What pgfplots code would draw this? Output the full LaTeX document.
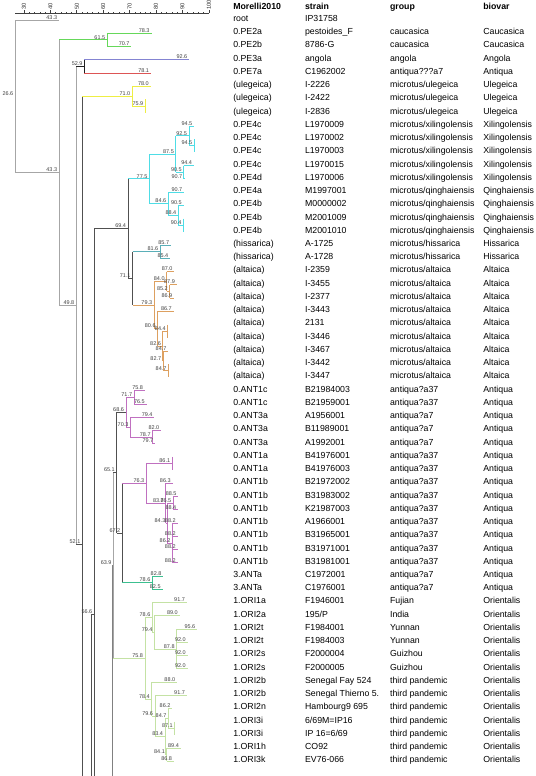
\documentclass[border=0pt]{standalone}
\usepackage{pgfplots}
\pgfplotsset{compat=1.18}
\usepackage{fontspec}
\setmainfont{Liberation Sans}
\definecolor{cgray}{HTML}{A6A6A6}
\definecolor{cmid}{HTML}{808080}
\definecolor{cdark}{HTML}{505050}
\definecolor{cblack}{HTML}{202020}
\definecolor{cgreen}{HTML}{66D85A}
\definecolor{cblue}{HTML}{8484D2}
\definecolor{cred}{HTML}{DD5555}
\definecolor{cyell}{HTML}{EEEE44}
\definecolor{ccyan}{HTML}{4EDDE6}
\definecolor{cteal}{HTML}{5AAFB8}
\definecolor{corange}{HTML}{DDA060}
\definecolor{cpurple}{HTML}{C070C0}
\definecolor{ctgreen}{HTML}{3CC090}
\definecolor{clgreen}{HTML}{C4E2A4}
\tikzset{
  lbl/.style={anchor=south east, inner sep=0.4pt, xshift=-1.2bp, font=\fontsize{5.5}{6}\selectfont, text=black!75},
  txt/.style={anchor=base west, inner sep=0pt, yshift=-1.4bp, font=\fontsize{8.8}{10}\selectfont},
  hdr/.style={anchor=base west, inner sep=0pt, font=\fontsize{8.8}{10}\selectfont\bfseries},
}
\newcommand{\vs}[4]{\addplot[#1] coordinates {(#2,#3) (#2,#4)};}
\newcommand{\hs}[4]{\addplot[#1] coordinates {(#2,#4) (#3,#4)} node[pos=1,lbl]{#3};}
\newcommand{\rw}[5]{%
  \node[txt] at (axis cs:109.2,#1) {#2};
  \node[txt] at (axis cs:136.4,#1) {#3};
  \node[txt] at (axis cs:168.6,#1) {#4};
  \node[txt] at (axis cs:203.9,#1) {#5};}
\begin{document}
\begin{tikzpicture}
\useasboundingbox (0,0) rectangle (536bp,-776bp);
\begin{axis}[
  at={(15.02bp,-13.3bp)}, anchor=north west,
  scale only axis, width=193.78bp, height=762.7bp,
  xmin=26.6, xmax=100, ymin=0.494, ymax=58.1, y dir=reverse,
  axis x line=top, axis y line=none, clip=false,
  x axis line style={-, black!75, line width=0.6bp},
  xtick={30,40,...,100}, minor x tick num=4,
  tick align=outside, major tick length=3bp, minor tick length=1.2bp,
  every tick/.style={black!75, line width=0.6bp},
  xticklabel style={rotate=90, anchor=west, font=\fontsize{5.8}{6}\selectfont, inner sep=0.6pt, text=black!80},
  /pgf/number format/assume math mode=true,
  every axis plot/.append style={no markers, line width=0.8bp},
]
% ---- root ----
\vs{cgray}{26.6}{1}{12.53}
\node[lbl] at (axis cs:26.6,6.77) {26.6};
\hs{cgray}{26.6}{43.3}{1}
\hs{cgray}{26.6}{43.3}{12.53}
\vs{cgray}{43.3}{2.5}{22.56}
\hs{cgreen}{43.3}{61.5}{2.5}
\hs{cgray}{43.3}{49.8}{22.56}
\vs{cgreen}{61.5}{2}{3}
\hs{cgreen}{61.5}{78.3}{2}
\hs{cgreen}{61.5}{70.7}{3}
\vs{cgray}{49.8}{4.5}{40.62}
\hs{cblack}{49.8}{52.9}{4.5}
\hs{cdark}{49.8}{52.1}{40.62}
\vs{cblack}{52.9}{4}{5}
\hs{cblue}{52.9}{92.6}{4}
\hs{cred}{52.9}{78.1}{5}
\vs{cdark}{52.1}{6.75}{58.1}
\hs{cyell}{52.1}{71.0}{6.75}
\vs{cyell}{71.0}{6}{7.5}
\hs{cyell}{71.0}{78.0}{6}
\hs{cyell}{71.0}{75.9}{7.5}
\vs{cyell}{75.9}{7}{8}
% ---- lower backbone ----
\vs{cdark}{55.6}{45.9}{58.1}
\hs{cdark}{55.6}{56.6}{45.9}
\vs{cdark}{56.6}{16.758}{58.1}
\hs{cdark}{56.6}{69.4}{16.758}
\vs{cdark}{69.4}{13}{20.516}
% xilingolensis / qinghaiensis
\hs{ccyan}{69.4}{77.5}{13}
\vs{ccyan}{77.5}{11.125}{14.875}
\hs{ccyan}{77.5}{87.5}{11.125}
\hs{ccyan}{77.5}{84.6}{14.875}
\vs{ccyan}{87.5}{9.75}{12.5}
\hs{ccyan}{87.5}{92.5}{9.75}
\hs{ccyan}{87.5}{90.5}{12.5}
\vs{ccyan}{92.5}{9}{10.5}
\hs{ccyan}{92.5}{94.5}{9}
\hs{ccyan}{92.5}{94.5}{10.5}
\vs{ccyan}{94.5}{10}{11}
\vs{ccyan}{90.5}{12}{13}
\hs{ccyan}{90.5}{94.4}{12}
\hs{ccyan}{90.5}{90.7}{13}
\vs{ccyan}{84.6}{14}{15.75}
\hs{ccyan}{84.6}{90.7}{14}
\hs{ccyan}{84.6}{88.4}{15.75}
\vs{ccyan}{88.4}{15}{16.5}
\hs{ccyan}{88.4}{90.5}{15}
\hs{ccyan}{88.4}{90.4}{16.5}
\vs{ccyan}{90.4}{16}{17}
% hissarica / altaica
\hs{cdark}{69.4}{71.1}{20.516}
\vs{cdark}{71.1}{18.5}{22.531}
\hs{cteal}{71.1}{81.6}{18.5}
\vs{cteal}{81.6}{18}{19}
\hs{cteal}{81.6}{85.7}{18}
\hs{cteal}{81.6}{85.4}{19}
\hs{corange}{71.1}{79.3}{22.531}
\vs{corange}{79.3}{20.75}{24.3125}
\hs{corange}{79.3}{84.0}{20.75}
\hs{corange}{79.3}{80.6}{24.3125}
\vs{corange}{84.0}{20}{21.5}
\hs{corange}{84.0}{87.0}{20}
\hs{corange}{84.0}{85.2}{21.5}
\vs{corange}{85.2}{21}{22}
\hs{corange}{85.2}{87.9}{21}
\hs{corange}{85.2}{86.9}{22}
\vs{corange}{80.6}{23}{25.625}
\hs{corange}{80.6}{86.7}{23}
\hs{corange}{80.6}{82.6}{25.625}
\vs{corange}{82.6}{24.5}{26.75}
\hs{corange}{82.6}{84.4}{24.5}
\vs{corange}{84.4}{24}{25}
\hs{corange}{82.6}{82.7}{26.75}
\vs{corange}{82.7}{26}{27.5}
\hs{corange}{82.7}{84.7}{26}
\hs{corange}{82.7}{84.7}{27.5}
\vs{corange}{84.7}{27}{28}
% ---- antiqua ----
\vs{cmid}{63.45}{42.19}{58.1}
\hs{cmid}{63.45}{63.9}{42.19}
\vs{cgray}{63.9}{35.19}{49.2}
\hs{cdark}{63.9}{65.1}{35.19}
\vs{cdark}{65.1}{30.625}{39.75}
\hs{cdark}{65.1}{68.6}{30.625}
\vs{cpurple}{68.6}{29.5}{31.75}
\hs{cpurple}{68.6}{71.7}{29.5}
\vs{cpurple}{71.7}{29}{30}
\hs{cpurple}{71.7}{75.8}{29}
\hs{cpurple}{71.7}{76.5}{30}
\hs{cpurple}{68.6}{70.3}{31.75}
\vs{cpurple}{70.3}{31}{32.5}
\hs{cpurple}{70.3}{79.4}{31}
\hs{cpurple}{70.3}{78.7}{32.5}
\vs{cpurple}{78.7}{32}{33}
\hs{cpurple}{78.7}{82.0}{32}
\hs{cpurple}{78.7}{79.7}{33}
\hs{cdark}{65.1}{67.2}{39.75}
\vs{cdark}{67.2}{36}{43.5}
\hs{cpurple}{67.2}{76.3}{36}
\vs{cpurple}{76.3}{34.5}{37.5}
\hs{cpurple}{76.3}{86.1}{34.5}
\vs{cpurple}{86.1}{34}{35}
\hs{cpurple}{76.3}{83.7}{37.5}
\vs{cpurple}{83.7}{36}{39}
\hs{cpurple}{83.7}{86.3}{36}
\hs{cpurple}{83.7}{84.3}{39}
\vs{cpurple}{84.3}{37.5}{40.5}
\hs{cpurple}{84.3}{86.5}{37.5}
\vs{cpurple}{86.5}{37}{38}
\hs{cpurple}{86.5}{88.5}{37}
\hs{cpurple}{86.5}{88.4}{38}
\hs{cpurple}{84.3}{86.2}{40.5}
\vs{cpurple}{86.2}{39}{42}
\hs{cpurple}{86.2}{88.2}{39}
\hs{cpurple}{86.2}{88.2}{40}
\hs{cpurple}{86.2}{88.2}{41}
\hs{cpurple}{86.2}{88.2}{42}
\hs{ctgreen}{67.2}{78.6}{43.5}
\vs{ctgreen}{78.6}{43}{44}
\hs{ctgreen}{78.6}{82.8}{43}
\hs{ctgreen}{78.6}{82.5}{44}
% ---- orientalis ----
\hs{clgreen}{63.9}{75.8}{49.2}
\vs{clgreen}{75.8}{46.125}{52.28}
\hs{clgreen}{75.8}{78.6}{46.125}
\vs{clgreen}{78.6}{45}{47.25}
\hs{clgreen}{78.6}{91.7}{45}
\hs{clgreen}{78.6}{79.4}{47.25}
\vs{clgreen}{79.4}{46}{48.5}
\hs{clgreen}{79.4}{89.0}{46}
\hs{clgreen}{79.4}{87.8}{48.5}
\vs{clgreen}{87.8}{47}{50}
\hs{clgreen}{87.8}{95.6}{47}
\hs{clgreen}{87.8}{92.0}{48}
\hs{clgreen}{87.8}{92.0}{49}
\hs{clgreen}{87.8}{92.0}{50}
\hs{clgreen}{75.8}{78.4}{52.28}
\vs{clgreen}{78.4}{51}{53.5625}
\hs{clgreen}{78.4}{88.0}{51}
\hs{clgreen}{78.4}{79.6}{53.5625}
\vs{clgreen}{79.6}{52}{55.125}
\hs{clgreen}{79.6}{91.7}{52}
\hs{clgreen}{79.6}{83.4}{55.125}
\vs{clgreen}{83.4}{53.75}{56.5}
\hs{clgreen}{83.4}{84.7}{53.75}
\vs{clgreen}{84.7}{53}{54.5}
\hs{clgreen}{84.7}{86.2}{53}
\hs{clgreen}{84.7}{87.1}{54.5}
\vs{clgreen}{87.1}{54}{55}
\hs{clgreen}{83.4}{84.1}{56.5}
\vs{clgreen}{84.1}{56}{57}
\hs{clgreen}{84.1}{89.4}{56}
\hs{clgreen}{84.1}{86.8}{57}
% ---- text columns ----
\node[hdr] at (axis cs:109.2,0.184) {Morelli2010};
\node[hdr] at (axis cs:136.4,0.184) {strain};
\node[hdr] at (axis cs:168.6,0.184) {group};
\node[hdr] at (axis cs:203.9,0.184) {biovar};
\rw{1}{root}{IP31758}{}{}
\rw{2}{0.PE2a}{pestoides\_F}{caucasica}{Caucasica}
\rw{3}{0.PE2b}{8786-G}{caucasica}{Caucasica}
\rw{4}{0.PE3a}{angola}{angola}{Angola}
\rw{5}{0.PE7a}{C1962002}{antiqua???a7}{Antiqua}
\rw{6}{(ulegeica)}{I-2226}{microtus/ulegeica}{Ulegeica}
\rw{7}{(ulegeica)}{I-2422}{microtus/ulegeica}{Ulegeica}
\rw{8}{(ulegeica)}{I-2836}{microtus/ulegeica}{Ulegeica}
\rw{9}{0.PE4c}{L1970009}{microtus/xilingolensis}{Xilingolensis}
\rw{10}{0.PE4c}{L1970002}{microtus/xilingolensis}{Xilingolensis}
\rw{11}{0.PE4c}{L1970003}{microtus/xilingolensis}{Xilingolensis}
\rw{12}{0.PE4c}{L1970015}{microtus/xilingolensis}{Xilingolensis}
\rw{13}{0.PE4d}{L1970006}{microtus/xilingolensis}{Xilingolensis}
\rw{14}{0.PE4a}{M1997001}{microtus/qinghaiensis}{Qinghaiensis}
\rw{15}{0.PE4b}{M0000002}{microtus/qinghaiensis}{Qinghaiensis}
\rw{16}{0.PE4b}{M2001009}{microtus/qinghaiensis}{Qinghaiensis}
\rw{17}{0.PE4b}{M2001010}{microtus/qinghaiensis}{Qinghaiensis}
\rw{18}{(hissarica)}{A-1725}{microtus/hissarica}{Hissarica}
\rw{19}{(hissarica)}{A-1728}{microtus/hissarica}{Hissarica}
\rw{20}{(altaica)}{I-2359}{microtus/altaica}{Altaica}
\rw{21}{(altaica)}{I-3455}{microtus/altaica}{Altaica}
\rw{22}{(altaica)}{I-2377}{microtus/altaica}{Altaica}
\rw{23}{(altaica)}{I-3443}{microtus/altaica}{Altaica}
\rw{24}{(altaica)}{2131}{microtus/altaica}{Altaica}
\rw{25}{(altaica)}{I-3446}{microtus/altaica}{Altaica}
\rw{26}{(altaica)}{I-3467}{microtus/altaica}{Altaica}
\rw{27}{(altaica)}{I-3442}{microtus/altaica}{Altaica}
\rw{28}{(altaica)}{I-3447}{microtus/altaica}{Altaica}
\rw{29}{0.ANT1c}{B21984003}{antiqua?a37}{Antiqua}
\rw{30}{0.ANT1c}{B21959001}{antiqua?a37}{Antiqua}
\rw{31}{0.ANT3a}{A1956001}{antiqua?a7}{Antiqua}
\rw{32}{0.ANT3a}{B11989001}{antiqua?a7}{Antiqua}
\rw{33}{0.ANT3a}{A1992001}{antiqua?a7}{Antiqua}
\rw{34}{0.ANT1a}{B41976001}{antiqua?a37}{Antiqua}
\rw{35}{0.ANT1a}{B41976003}{antiqua?a37}{Antiqua}
\rw{36}{0.ANT1b}{B21972002}{antiqua?a37}{Antiqua}
\rw{37}{0.ANT1b}{B31983002}{antiqua?a37}{Antiqua}
\rw{38}{0.ANT1b}{K21987003}{antiqua?a37}{Antiqua}
\rw{39}{0.ANT1b}{A1966001}{antiqua?a37}{Antiqua}
\rw{40}{0.ANT1b}{B31965001}{antiqua?a37}{Antiqua}
\rw{41}{0.ANT1b}{B31971001}{antiqua?a37}{Antiqua}
\rw{42}{0.ANT1b}{B31981001}{antiqua?a37}{Antiqua}
\rw{43}{3.ANTa}{C1972001}{antiqua?a7}{Antiqua}
\rw{44}{3.ANTa}{C1976001}{antiqua?a7}{Antiqua}
\rw{45}{1.ORI1a}{F1946001}{Fujian}{Orientalis}
\rw{46}{1.ORI2a}{195/P}{India}{Orientalis}
\rw{47}{1.ORI2t}{F1984001}{Yunnan}{Orientalis}
\rw{48}{1.ORI2t}{F1984003}{Yunnan}{Orientalis}
\rw{49}{1.ORI2s}{F2000004}{Guizhou}{Orientalis}
\rw{50}{1.ORI2s}{F2000005}{Guizhou}{Orientalis}
\rw{51}{1.ORI2b}{Senegal Fay 524}{third pandemic}{Orientalis}
\rw{52}{1.ORI2b}{Senegal Thierno 5.}{third pandemic}{Orientalis}
\rw{53}{1.ORI2n}{Hambourg9 695}{third pandemic}{Orientalis}
\rw{54}{1.ORI3i}{6/69M=IP16}{third pandemic}{Orientalis}
\rw{55}{1.ORI3i}{IP 16=6/69}{third pandemic}{Orientalis}
\rw{56}{1.ORI1h}{CO92}{third pandemic}{Orientalis}
\rw{57}{1.ORI3k}{EV76-066}{third pandemic}{Orientalis}
\end{axis}
\end{tikzpicture}
\end{document}
